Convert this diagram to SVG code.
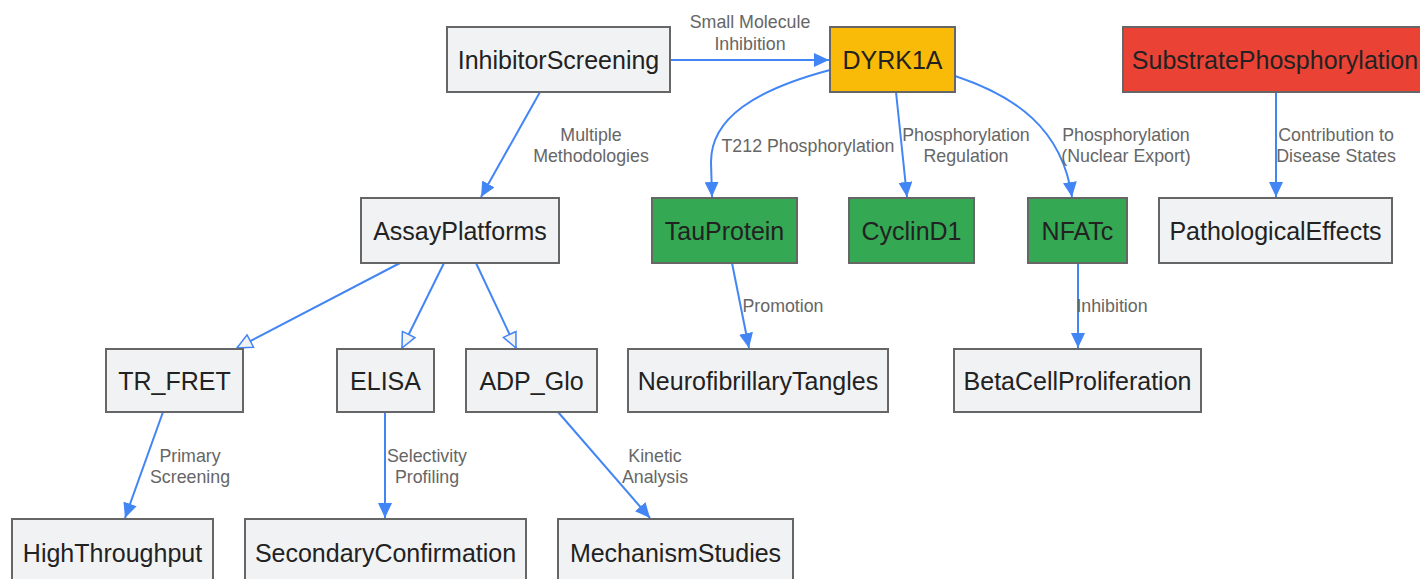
<svg xmlns="http://www.w3.org/2000/svg" width="1420" height="579" viewBox="0 0 1420 579">
<style>
.n rect{stroke:#666;stroke-width:2;fill:#f1f2f4}
.n text{font-family:"Liberation Sans",Arial,sans-serif;font-size:25px;fill:#222;text-anchor:middle;dominant-baseline:central}
.y rect{fill:#f9bb07}
.r rect{fill:#ea4335}
.g rect{fill:#34a853}
.e path{fill:none;stroke:#4285f4;stroke-width:2}
.l{font-family:"Liberation Sans",Arial,sans-serif;font-size:17.8px;fill:#666;text-anchor:middle}
</style>
<defs>
<marker id="a" markerUnits="userSpaceOnUse" markerWidth="16" markerHeight="14" refX="15" refY="7" orient="auto"><path d="M0,0 L15,7 L0,14 z" fill="#4285f4"/></marker>
<marker id="o" markerUnits="userSpaceOnUse" markerWidth="18" markerHeight="16" refX="16" refY="8" orient="auto"><path d="M1,1 L16,8 L1,15 z" fill="#f1f2f4" stroke="#4285f4" stroke-width="1.5"/></marker>
</defs>
<rect width="1420" height="579" fill="#fff"/>
<g id="edges" class="e">
<path d="M670,60 L829,60" marker-end="url(#a)"/>
<path d="M540,92 L481,197" marker-end="url(#a)"/>
<path d="M400,263 L237,348" marker-end="url(#o)"/>
<path d="M444,263 L402,348" marker-end="url(#o)"/>
<path d="M476,263 L516,348" marker-end="url(#o)"/>
<path d="M830,70 C755,90 711,118 711,162 L712,197" marker-end="url(#a)"/>
<path d="M896,92 L907,197" marker-end="url(#a)"/>
<path d="M955,76 C1015,96 1062,128 1072,197" marker-end="url(#a)"/>
<path d="M1276,92 L1276,197" marker-end="url(#a)"/>
<path d="M732,263 L749,348" marker-end="url(#a)"/>
<path d="M1078,263 L1078,348" marker-end="url(#a)"/>
<path d="M163,412 L125,518" marker-end="url(#a)"/>
<path d="M385,412 L385,518" marker-end="url(#a)"/>
<path d="M558,412 L650,518" marker-end="url(#a)"/>
</g>
<g id="labels">
<text class="l" x="750" y="28">Small Molecule</text><text class="l" x="750" y="50">Inhibition</text>
<text class="l" x="591" y="141">Multiple</text><text class="l" x="591" y="162">Methodologies</text>
<text class="l" x="808" y="152">T212 Phosphorylation</text>
<text class="l" x="966" y="141">Phosphorylation</text><text class="l" x="966" y="162">Regulation</text>
<text class="l" x="1126" y="141">Phosphorylation</text><text class="l" x="1126" y="162">(Nuclear Export)</text>
<text class="l" x="1336" y="141">Contribution to</text><text class="l" x="1336" y="162">Disease States</text>
<text class="l" x="783" y="312">Promotion</text>
<text class="l" x="1112" y="312">Inhibition</text>
<text class="l" x="190" y="462">Primary</text><text class="l" x="190" y="483">Screening</text>
<text class="l" x="427" y="462">Selectivity</text><text class="l" x="427" y="483">Profiling</text>
<text class="l" x="655" y="462">Kinetic</text><text class="l" x="655" y="483">Analysis</text>
</g>
<g id="InhibitorScreening" class="n"><rect x="447" y="27" width="223" height="65"/><text x="558.5" y="60">InhibitorScreening</text></g>
<g id="DYRK1A" class="n y"><rect x="830" y="27" width="125" height="65"/><text x="892.5" y="60">DYRK1A</text></g>
<g id="SubstratePhosphorylation" class="n r"><rect x="1123" y="27" width="298" height="65"/><text x="1275" y="60">SubstratePhosphorylation</text></g>
<g id="AssayPlatforms" class="n"><rect x="361" y="198" width="198" height="65"/><text x="460" y="231">AssayPlatforms</text></g>
<g id="TauProtein" class="n g"><rect x="652" y="198" width="145" height="65"/><text x="724.5" y="231">TauProtein</text></g>
<g id="CyclinD1" class="n g"><rect x="849" y="198" width="125" height="65"/><text x="911.5" y="231">CyclinD1</text></g>
<g id="NFATc" class="n g"><rect x="1028" y="198" width="99" height="65"/><text x="1077.5" y="231">NFATc</text></g>
<g id="PathologicalEffects" class="n"><rect x="1159" y="198" width="233" height="65"/><text x="1275.5" y="231">PathologicalEffects</text></g>
<g id="TR_FRET" class="n"><rect x="106" y="349" width="137" height="63"/><text x="174.5" y="381">TR_FRET</text></g>
<g id="ELISA" class="n"><rect x="337" y="349" width="97" height="63"/><text x="385.5" y="381">ELISA</text></g>
<g id="ADP_Glo" class="n"><rect x="466" y="349" width="131" height="63"/><text x="531.5" y="381">ADP_Glo</text></g>
<g id="NeurofibrillaryTangles" class="n"><rect x="628" y="349" width="260" height="63"/><text x="758" y="381">NeurofibrillaryTangles</text></g>
<g id="BetaCellProliferation" class="n"><rect x="954" y="349" width="247" height="63"/><text x="1077.5" y="381">BetaCellProliferation</text></g>
<g id="HighThroughput" class="n"><rect x="12" y="519" width="201" height="65"/><text x="112.5" y="553">HighThroughput</text></g>
<g id="SecondaryConfirmation" class="n"><rect x="245" y="519" width="281" height="65"/><text x="385.5" y="553">SecondaryConfirmation</text></g>
<g id="MechanismStudies" class="n"><rect x="558" y="519" width="235" height="65"/><text x="675.5" y="553">MechanismStudies</text></g>
</svg>
